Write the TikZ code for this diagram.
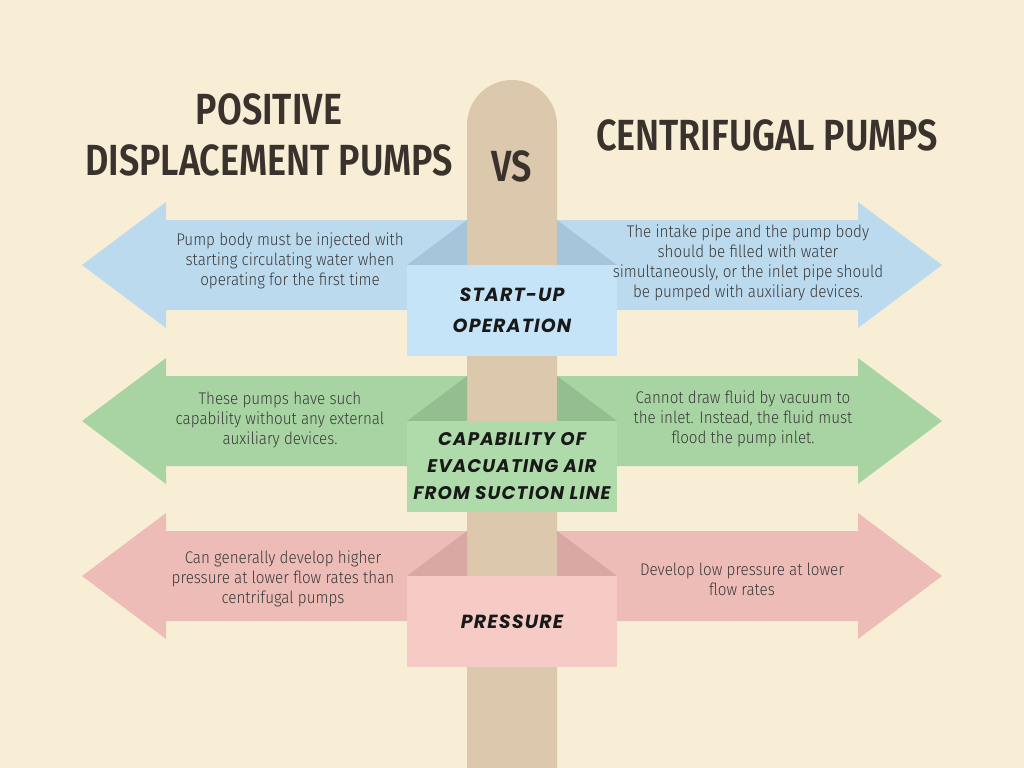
\documentclass[tikz,border=0pt]{standalone}
\usepackage{fontspec}
\setmainfont{Fira Sans}
\IfFontExistsTF{Fira Sans SemiBold}
  {\newfontfamily\titlefont[FakeStretch=0.825]{Fira Sans SemiBold}}
  {\newfontfamily\titlefont[FakeStretch=0.82,UprightFont=*,BoldFont=*]{Fira Sans}}
\IfFontExistsTF{Fira Sans Light}
  {\newfontfamily\bodyfont[FakeStretch=0.9]{Fira Sans Light}}
  {\newfontfamily\bodyfont[FakeStretch=0.9]{Fira Sans}}
\newfontfamily\labelfont[LetterSpace=6]{Poppins}

\definecolor{bgcream}{HTML}{F8EED6}
\definecolor{post}{HTML}{DCC8AD}
\definecolor{arrowblue}{HTML}{BBDAEE}
\definecolor{foldblue}{HTML}{A6C4DA}
\definecolor{boxblue}{HTML}{C6E4F7}
\definecolor{arrowgreen}{HTML}{A8D4A3}
\definecolor{foldgreen}{HTML}{94BE90}
\definecolor{boxgreen}{HTML}{AEDBA9}
\definecolor{arrowpink}{HTML}{EDBCB7}
\definecolor{foldpink}{HTML}{D9A8A3}
\definecolor{boxpink}{HTML}{F6CBC6}
\definecolor{titleink}{HTML}{3A332D}
\definecolor{bodyink}{HTML}{3A3A3A}

\tikzset{
  title/.style={text=titleink, font=\titlefont\fontsize{31}{36}\selectfont, align=center},
  body/.style={text=bodyink, font=\bodyfont\fontsize{12}{14.2}\selectfont, align=center},
  tag/.style={text=black!90, font=\labelfont\fontsize{13.5}{22}\selectfont\bfseries\itshape, align=center}
}

\begin{document}
\begin{tikzpicture}[x=0.025cm, y=-0.025cm]
  \fill[bgcream] (0,0) rectangle (1024,768);% background

  % double arrows, one per row
  \foreach \c/\col in {265/arrowblue, 421/arrowgreen, 576/arrowpink} {
    \fill[\col] (166,\c-45) -- (858,\c-45) -- (858,\c-63) -- (942,\c) -- (858,\c+63)
      -- (858,\c+45) -- (166,\c+45) -- (166,\c+63) -- (82,\c) -- (166,\c-63) -- cycle;
  }

  % the post
  \fill[post] (467,768) -- (467,125) arc[start angle=180, end angle=360, radius=45] -- (557,768) -- cycle;

  % folds and label boxes
  \foreach \c/\dark/\light in {265/foldblue/boxblue, 421/foldgreen/boxgreen, 576/foldpink/boxpink} {
    \fill[\dark] (467,\c-45) -- (407,\c) -- (467,\c) -- cycle;% left fold
    \fill[\dark] (557,\c-45) -- (617,\c) -- (557,\c) -- cycle;% right fold
    \fill[\light] (407,\c) rectangle (617,\c+91);
  }

  % headings
  \node[title] (pdp) at (269,135) {POSITIVE\\DISPLACEMENT PUMPS};
  \node[title] (vs) at (512,166) {VS};
  \node[title] (cp) at (767,135) {CENTRIFUGAL PUMPS};

  % start-up row
  \node[tag] (startup) at (512,310) {START-UP\\OPERATION};
  \node[body] (startupL) at (290,261) {Pump body must be injected with\\starting circulating water when\\operating for the first time};
  \node[body] (startupR) at (748,263) {The intake pipe and the pump body\\should be filled with water\\simultaneously, or the inlet pipe should\\be pumped with auxiliary devices.};

  % air row
  \node[tag, font=\labelfont\fontsize{13}{19}\selectfont\bfseries\itshape] (air) at (512,466) {CAPABILITY OF\\EVACUATING AIR\\FROM SUCTION LINE};
  \node[body] (airL) at (280,420) {These pumps have such\\capability without any external\\auxiliary devices.};
  \node[body] (airR) at (743,419) {Cannot draw fluid by vacuum to\\the inlet. Instead, the fluid must\\flood the pump inlet.};

  % pressure row
  \node[tag] (press) at (512,622) {PRESSURE};
  \node[body] (pressL) at (283,579) {Can generally develop higher\\pressure at lower flow rates than\\centrifugal pumps};
  \node[body] (pressR) at (742,579) {Develop low pressure at lower\\flow rates};
\end{tikzpicture}
\end{document}
